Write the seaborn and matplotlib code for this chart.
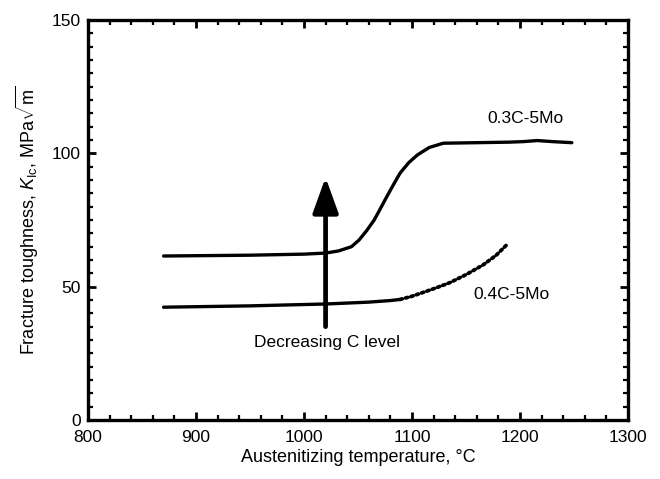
import matplotlib
matplotlib.use("Agg")
import matplotlib.pyplot as plt
import seaborn as sns
from matplotlib.ticker import MultipleLocator

sns.set_theme(style="ticks")
plt.rcParams["font.family"] = ["Liberation Sans", "DejaVu Sans"]
plt.rcParams["text.color"] = "black"
plt.rcParams["mathtext.fontset"] = "custom"
plt.rcParams["mathtext.rm"] = "Liberation Sans"
plt.rcParams["mathtext.it"] = "Liberation Sans:italic"

# 0.3C-5Mo steel
temp_03 = [870, 950, 1000, 1020, 1032, 1044, 1051, 1058, 1065, 1070, 1075, 1080,
           1085, 1089, 1097, 1105, 1116, 1129, 1160, 1190, 1203, 1216, 1230, 1248]
kic_03 = [61.5, 61.8, 62.2, 62.6, 63.4, 65.0, 67.5, 71.0, 75.0, 78.7, 82.5, 86.2,
          89.8, 92.6, 96.5, 99.4, 102.2, 103.8, 104.0, 104.2, 104.4, 104.8, 104.4, 104.0]

# 0.4C-5Mo steel: measured (solid) and extrapolated (dotted) portions
temp_04 = [870, 950, 1020, 1060, 1080, 1089]
kic_04 = [42.3, 42.8, 43.5, 44.2, 44.8, 45.2]
temp_04x = [1089, 1100, 1110, 1122, 1135, 1150, 1166, 1178, 1188]
kic_04x = [45.2, 46.4, 47.8, 49.5, 51.5, 54.5, 58.2, 61.8, 65.8]

# "Decreasing C level" arrow
arrow_x = 1020
arrow_from, arrow_to = 35, 91

fig = plt.figure(figsize=(6.6, 4.79), dpi=100)
ax = fig.add_axes([0.1333, 0.1232, 0.8182, 0.8350])

lw = 2.4
sns.lineplot(x=temp_03, y=kic_03, ax=ax, color="black", lw=lw, sort=False)
sns.lineplot(x=temp_04, y=kic_04, ax=ax, color="black", lw=lw, sort=False)
sns.lineplot(x=temp_04x, y=kic_04x, ax=ax, color="black", lw=2.7, sort=False,
             linestyle=(0, (0.6, 0.9)), dash_capstyle="round")

ax.annotate("", xy=(arrow_x, arrow_to), xytext=(arrow_x, arrow_from),
            arrowprops=dict(arrowstyle="-|>,head_length=1.8,head_width=0.65",
                            color="black", lw=3.4, shrinkA=0, shrinkB=0))

ax.text(1021, 29, "Decreasing C level", ha="center", va="center",
        fontsize=12.5, color="black")
ax.text(1205, 113, "0.3C-5Mo", ha="center", va="center", fontsize=12.5, color="black")
ax.text(1192, 47.2, "0.4C-5Mo", ha="center", va="center", fontsize=12.5, color="black")

ax.set_xlim(800, 1300)
ax.set_ylim(0, 150)
ax.xaxis.set_major_locator(MultipleLocator(100))
ax.xaxis.set_minor_locator(MultipleLocator(20))
ax.yaxis.set_major_locator(MultipleLocator(50))
ax.yaxis.set_minor_locator(MultipleLocator(5))

ax.tick_params(which="both", direction="in", top=True, right=True,
               color="black", labelsize=12.5, labelcolor="black")
ax.tick_params(which="major", length=6, width=2)
ax.tick_params(which="minor", length=3.5, width=1.6)
ax.tick_params(axis="x", pad=7)
ax.tick_params(axis="y", pad=5)

for s in ax.spines.values():
    s.set_linewidth(2.4)
    s.set_color("black")

ax.set_xlabel("Austenitizing temperature, °C", fontsize=13, color="black", labelpad=3)
ax.set_ylabel(r"Fracture toughness, $K_{\mathrm{Ic}}$, MPa$\sqrt{\mathrm{m}}$",
              fontsize=13, color="black", labelpad=8)

fig.savefig("out.png", dpi=100, facecolor="white")
